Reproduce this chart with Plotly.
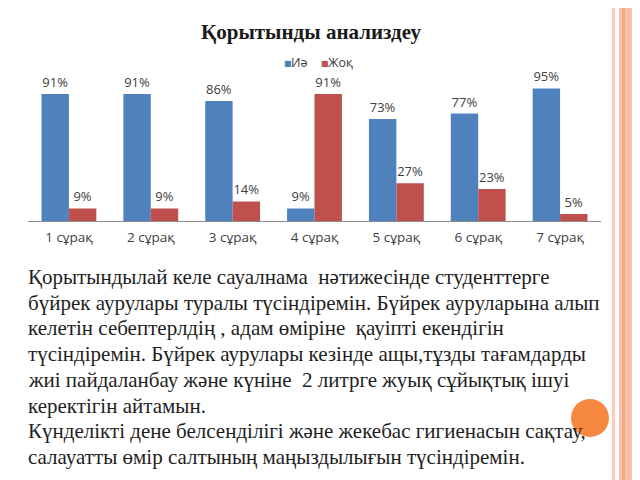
import plotly.graph_objects as go

categories = ["1 сұрақ", "2 сұрақ", "3 сұрақ", "4 сұрақ", "5 сұрақ", "6 сұрақ", "7 сұрақ"]
yes_values = [91, 91, 86, 9, 73, 77, 95]
no_values = [9, 9, 14, 91, 27, 23, 5]
series_names = ["Иә", "Жоқ"]
title_text = "Қорытынды анализдеу"
body_lines = [
    "Қорытындылай келе сауалнама  нәтижесінде студенттерге",
    "бүйрек аурулары туралы түсіндіремін. Бүйрек ауруларына алып",
    "келетін себептерлдің , адам өміріне  қауіпті екендігін",
    "түсіндіремін. Бүйрек аурулары кезінде ащы,тұзды тағамдарды",
    "жиі пайдаланбау және күніне  2 литрге жуық сұйықтық ішуі",
    "керектігін айтамын.",
    "Күнделікті дене белсенділігі және жекебас гигиенасын сақтау,",
    "салауатты өмір салтының маңыздылығын түсіндіремін.",
]

# page has an 8px body margin; figure sits at (8, 8)
OFF = 8
W, H = 640 - OFF, 480 - OFF
BLUE = "#4F81BD"
RED = "#C0504D"
SANS = "Open Sans"
SERIF = "Liberation Serif"

fig = go.Figure()
for name, vals, col in [(series_names[0], yes_values, BLUE), (series_names[1], no_values, RED)]:
    fig.add_trace(go.Bar(
        x=categories, y=vals, name=name, marker_color=col, marker_line_width=0,
        text=[f"{v}%" for v in vals], textposition="outside",
        textfont=dict(family=SANS, size=13, color="#404040"),
        cliponaxis=False, showlegend=False,
    ))

def px_x(p):
    return (p - OFF) / W

def px_y(p):
    return 1 - (p - OFF) / H

fig.update_layout(
    width=W, height=H, autosize=False,
    margin=dict(l=0, r=0, t=0, b=0),
    paper_bgcolor="white", plot_bgcolor="white",
    barmode="group", bargap=0.33, bargroupgap=0,
    xaxis=dict(domain=[px_x(28), px_x(601)], showline=True, linecolor="#8C8C8C", linewidth=1,
               showgrid=False, ticks="", ticklabelstandoff=4,
               tickfont=dict(family=SANS, size=13.5, color="#404040"),
               fixedrange=True),
    yaxis=dict(domain=[px_y(221), px_y(81.4)], range=[0, 100], visible=False, fixedrange=True),
)

annotations = []
annotations.append(dict(text=f"<b>{title_text}</b>", x=px_x(311), y=px_y(32), xref="paper", yref="paper",
                        showarrow=False, xanchor="center", yanchor="middle",
                        font=dict(family=SERIF, size=21, color="#1a1a1a")))
# legend
legend_items = [(series_names[0], BLUE, 282), (series_names[1], RED, 319)]
for name, col, xp in legend_items:
    annotations.append(dict(text="■", x=px_x(xp), y=px_y(63), xref="paper", yref="paper", showarrow=False,
                            xanchor="left", yanchor="middle", font=dict(family="DejaVu Sans", size=8, color=col)))
    annotations.append(dict(text=name, x=px_x(xp + 7), y=px_y(62), xref="paper", yref="paper", showarrow=False,
                            xanchor="left", yanchor="middle",
                            font=dict(family=SANS, size=12.5, color="#404040")))

line_y0 = 277
line_step = 25.7
for i, ln in enumerate(body_lines):
    annotations.append(dict(text=ln.replace("  ", "&nbsp; "), x=px_x(26), y=px_y(line_y0 + i * line_step),
                            xref="paper", yref="paper", showarrow=False, xanchor="left", yanchor="middle",
                            font=dict(family=SERIF, size=21, color="#1e1e1e")))
fig.update_layout(annotations=annotations)

shapes = [
    # right border
    dict(type="rect", xref="paper", yref="paper", x0=px_x(612), x1=px_x(615), y0=0, y1=1,
         fillcolor="#F8CDBE", line_width=0, layer="below"),
    dict(type="rect", xref="paper", yref="paper", x0=px_x(619), x1=1, y0=0, y1=1,
         fillcolor="#FCC3AE", line_width=0, layer="below"),
    dict(type="rect", xref="paper", yref="paper", x0=px_x(622), x1=px_x(625), y0=0, y1=1,
         fillcolor="#F5AA8D", line_width=0, layer="below"),
    dict(type="rect", xref="paper", yref="paper", x0=px_x(628), x1=px_x(629.5), y0=0, y1=1,
         fillcolor="#F7B498", line_width=0, layer="below"),
    # orange circle
    dict(type="circle", xref="paper", yref="paper", x0=px_x(571), x1=px_x(609), y0=px_y(437), y1=px_y(399),
         fillcolor="#F7883F", line_width=0, layer="below"),
]
fig.update_layout(shapes=shapes)

fig.write_html("out.html")
